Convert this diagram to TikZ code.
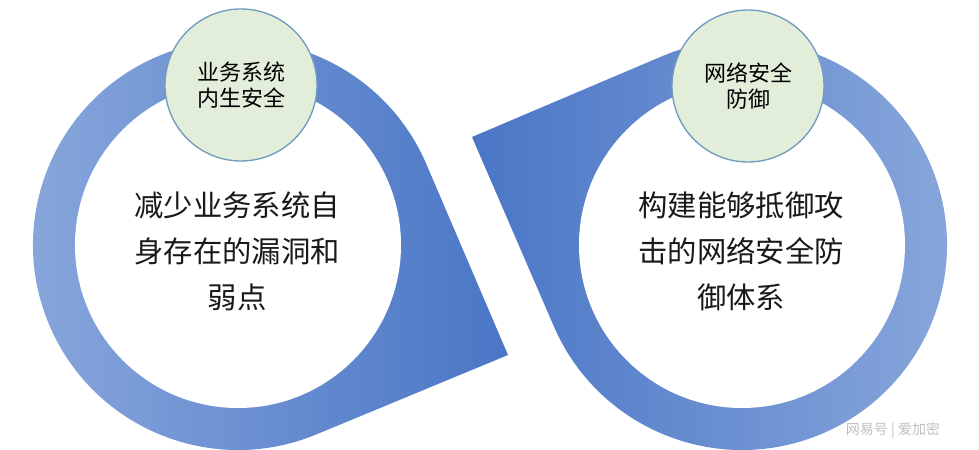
\documentclass[tikz,border=0pt]{standalone}
\usepackage{fontspec}
\setmainfont{Noto Sans CJK SC}
\usepackage{xcolor}
\usepackage{tikz}
\definecolor{ringdark}{HTML}{4A76C6}
\definecolor{ringlight}{HTML}{8AA8DC}
\definecolor{capfill}{HTML}{E2EEDA}
\definecolor{capline}{HTML}{6F9CBF}

\begin{document}
\begin{tikzpicture}[x=0.75pt,y=0.75pt,
    topcircle/.style={circle, draw=capline, line width=1pt, fill=capfill,
      minimum size=114pt, inner sep=0pt, align=center,
      font=\fontsize{16.5}{20}\selectfont},
    body/.style={align=center, text=black!90, font=\fontsize{22}{34.5}\selectfont}]
    \useasboundingbox (0,0) rectangle (979,450);
    % left ring with its tail
    \shade[left color=ringlight, right color=ringdark]
      (238,205) ++(23.1:205) arc[start angle=23.1, end angle=292.5, radius=205]
      -- (508,95) -- cycle;
    \fill[white] (238,205) circle[radius=163];
    % right ring with its tail
    \shade[left color=ringdark, right color=ringlight]
      (742,205) ++(203.4:205) arc[start angle=203.4, end angle=473, radius=205]
      -- (472,313) -- cycle;
    \fill[white] (742,205) circle[radius=163];
    % top circles
    \node [topcircle] (topL) at (241,365) {业务系统\\内生安全};
    \node [topcircle] (topR) at (748,364) {网络安全\\防御};
    % texts
    \node [body] (bodyL) at (237,199) {减少业务系统自\\身存在的漏洞和\\弱点};
    \node [body] (bodyR) at (741,199) {构建能够抵御攻\\击的网络安全防\\御体系};
    \node [text=black!25, font=\fontsize{10.5}{12}\selectfont] (mark) at (893,19) {网易号 | 爱加密};
\end{tikzpicture}
\end{document}
